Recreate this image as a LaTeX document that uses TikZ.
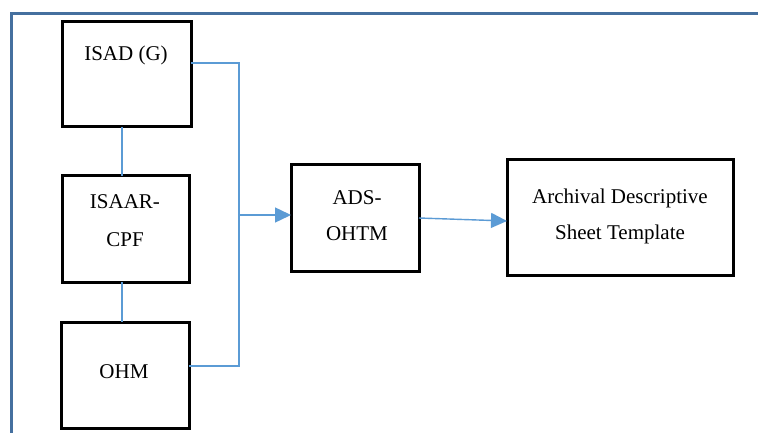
\documentclass[tikz,border=0pt]{standalone}
\usepackage{fontspec}
\setmainfont{Liberation Serif}
\usetikzlibrary{arrows.meta}
\definecolor{framec}{HTML}{45709F}
\definecolor{linkc}{HTML}{5B9BD5}
\begin{document}
\begin{tikzpicture}[x=1pt,y=-1pt,
  boxc/.style={draw=black,line width=3pt},
  txt/.style={font=\fontsize{21}{24}\selectfont,inner sep=0pt,anchor=center},
  link/.style={draw=linkc,line width=1.4pt},
  arr/.style={link,-{Triangle[length=16pt,width=15pt]}}]
\useasboundingbox (0,0) rectangle (758,433);
\fill[white] (0,0) rectangle (758,433);
% frame
\draw[framec,line width=3pt] (11,434) -- (11,14) -- (759,14);
% boxes
\draw[boxc] (62,22) rectangle (191,127);
\coordinate (isadR) at (191,63);
\coordinate (isadB) at (122,127);
\node[txt] (t1) at (126,55) {ISAD (G)};
\draw[boxc] (62,176) rectangle (189,282);
\coordinate (isaarT) at (122,176);
\coordinate (isaarB) at (122,282);
\node[txt] (t2a) at (125,202) {ISAAR-};
\node[txt] (t2b) at (125,240) {CPF};
\draw[boxc] (61,322) rectangle (189,428);
\coordinate (ohmT) at (122,322);
\coordinate (ohmR) at (189,366);
\node[txt] (t3) at (124,372) {OHM};
\draw[boxc] (291,165) rectangle (419,271);
\coordinate (adsL) at (291,215);
\coordinate (adsR) at (419,218);
\node[txt] (t4a) at (357,198) {ADS-};
\node[txt] (t4b) at (357,234) {OHTM};
\draw[boxc] (507,160) rectangle (733,275);
\coordinate (arcL) at (507,221);
\node[txt] (t5a) at (620,198) {Archival Descriptive};
\node[txt] (t5b) at (620,234) {Sheet Template};
% connectors
\coordinate (j1) at (239,63);
\coordinate (j2) at (239,366);
\coordinate (j3) at (239,215);
\draw[link] (isadR) -- (j1) -- (j2) -- (ohmR);
\draw[arr] (j3) -- (adsL);
\draw[arr] (adsR) -- (arcL);
\draw[link] (isadB) -- (isaarT);
\draw[link] (isaarB) -- (ohmT);
\end{tikzpicture}
\end{document}
